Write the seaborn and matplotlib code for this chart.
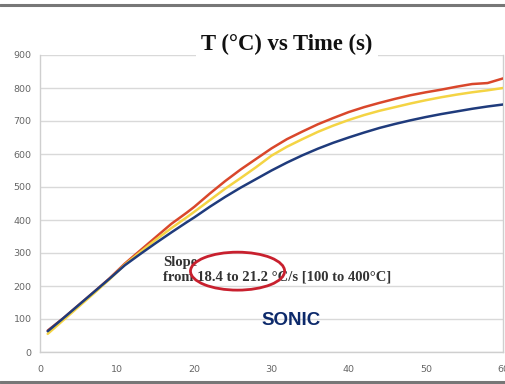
import matplotlib
matplotlib.use("Agg")
import matplotlib.pyplot as plt
import seaborn as sns
import pandas as pd
from matplotlib.patches import Ellipse
from matplotlib.lines import Line2D

# ---- data ----
time_s = [1, 3, 5, 7, 9, 11, 13, 15, 17, 19, 20, 22, 24, 26, 28, 30, 32, 34, 36, 38,
          40, 42, 44, 46, 48, 50, 52, 54, 56, 58, 60]
temp_red = [65, 102, 142, 182, 223, 268, 308, 348, 388, 422, 440, 480, 518, 553, 585,
            617, 645, 668, 690, 709, 727, 742, 755, 767, 778, 787, 795, 804, 812, 815, 829]
temp_yellow = [55, 96, 137, 178, 220, 265, 303, 340, 375, 408, 425, 460, 495, 527, 560,
               595, 622, 645, 667, 686, 703, 718, 731, 742, 753, 763, 772, 780, 787, 793, 800]
temp_blue = [63, 102, 142, 182, 222, 263, 297, 330, 362, 393, 408, 440, 470, 498, 524,
             550, 574, 596, 616, 634, 650, 665, 679, 691, 702, 712, 721, 729, 737, 744, 750]

x_ticks = [0, 10, 20, 30, 40, 50, 60]
y_ticks = [0, 100, 200, 300, 400, 500, 600, 700, 800, 900]

df = pd.DataFrame({
    "time": time_s * 3,
    "temp": temp_red + temp_yellow + temp_blue,
    "series": ["red"] * len(time_s) + ["yellow"] * len(time_s) + ["blue"] * len(time_s),
})
palette = {"red": "#d9472b", "yellow": "#f4d444", "blue": "#1f3b7c"}

sns.set_style("white")
fig = plt.figure(figsize=(5.06, 3.84), dpi=100)
ax = fig.add_axes([40 / 506, 1 - 352 / 384, 463 / 506, 297 / 384])

sns.lineplot(data=df, x="time", y="temp", hue="series", hue_order=["red", "yellow", "blue"],
             palette=palette, linewidth=1.8, legend=False, ax=ax, zorder=3)

ax.set_xlim(0, 60)
ax.set_ylim(0, 900)
ax.set_xticks(x_ticks)
ax.set_yticks(y_ticks)
ax.set_xlabel("")
ax.set_ylabel("")
ax.grid(axis="y", color="#d9d9d9", linewidth=1.0)
ax.grid(axis="x", visible=False)
ax.set_axisbelow(True)
ax.spines["top"].set_visible(False)
for side in ["left", "bottom", "right"]:
    ax.spines[side].set_color("#cfcfcf")
    ax.spines[side].set_linewidth(1.0)
ax.tick_params(axis="both", colors="#cfcfcf", labelcolor="#666666", labelsize=6.8,
               length=3, width=0.8, direction="out", pad=3)
ax.tick_params(axis="x", pad=6)

# annotation
ax.text(15.9, 272, "Slope", fontsize=10.5, fontweight="bold", family="Liberation Serif",
        color="#333333", ha="left", va="center", zorder=4)
ax.text(15.9, 226, "from 18.4 to 21.2 \u00b0C/s [100 to 400\u00b0C]", fontsize=10.5,
        fontweight="bold", family="Liberation Serif", color="#333333",
        ha="left", va="center", zorder=4)
ax.add_patch(Ellipse((25.6, 245), 12.2, 115, fill=False, edgecolor="#c8202e",
                     linewidth=2.0, zorder=5))
ax.text(32.6, 94, "SONIC", fontsize=13.5, fontweight="bold", family="Liberation Sans",
        color="#0d2a6b", ha="center", va="center", zorder=4)

# title with white background over the top gridline
fig.text(287 / 506, 1 - 44 / 384, "T (\u00b0C) vs Time (s)", fontsize=16.3,
         fontweight="bold", family="Liberation Serif", color="#111111",
         ha="center", va="center",
         bbox=dict(facecolor="white", edgecolor="none", pad=4))

# slide border lines
fig.add_artist(Line2D([0, 1], [1 - 5 / 384, 1 - 5 / 384], color="#777777", linewidth=2.2,
                      transform=fig.transFigure))
fig.add_artist(Line2D([0, 1], [1 - 382 / 384, 1 - 382 / 384], color="#777777", linewidth=2.2,
                      transform=fig.transFigure))

fig.savefig("out.png", dpi=100)
